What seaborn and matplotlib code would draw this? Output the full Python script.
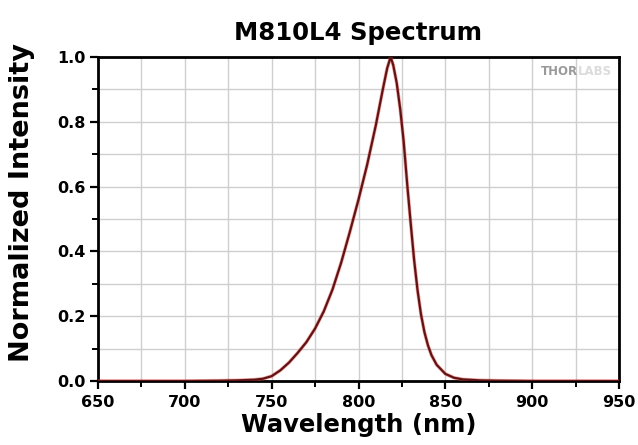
import numpy as np
import pandas as pd
import matplotlib
matplotlib.use("Agg")
import matplotlib.pyplot as plt
import seaborn as sns
from matplotlib.ticker import MultipleLocator

# Data
wavelength = [650, 700, 720, 730, 740, 745, 750, 755, 760, 765, 770, 775,
              780, 785, 790, 795, 800, 805, 810, 814, 816.5, 818.5,
              820, 822, 824, 826, 828, 830, 832, 834, 836, 838, 840, 842,
              845, 850, 855, 860, 870, 880, 900, 950]
intensity = [0.0, 0.0, 0.001, 0.002, 0.004, 0.007, 0.015, 0.033, 0.057, 0.087,
             0.12, 0.162, 0.215, 0.282, 0.365, 0.46, 0.56, 0.668, 0.79, 0.9,
             0.965, 1.0, 0.975, 0.92, 0.84, 0.74, 0.61, 0.49, 0.375, 0.28,
             0.205, 0.15, 0.11, 0.08, 0.05, 0.022, 0.01, 0.005, 0.002, 0.001,
             0.0, 0.0]
x_ticks = [650, 700, 750, 800, 850, 900, 950]
y_ticks = [0.0, 0.2, 0.4, 0.6, 0.8, 1.0]

df = pd.DataFrame({"Wavelength": wavelength, "Intensity": intensity})

sns.set_style("ticks")
plt.rcParams['font.family'] = ['DejaVu Sans']
plt.rcParams['text.color'] = 'black'
plt.rcParams['axes.labelcolor'] = 'black'
plt.rcParams['xtick.color'] = 'black'
plt.rcParams['ytick.color'] = 'black'

fig = plt.figure(figsize=(6.38, 4.45), dpi=100)
ax = fig.add_axes([98/638, 1-381/445, (619-98)/638, (381-57)/445])

sns.lineplot(data=df, x="Wavelength", y="Intensity", ax=ax, color="#f03a3a",
             linewidth=2.6, alpha=0.45, zorder=3)
sns.lineplot(data=df, x="Wavelength", y="Intensity", ax=ax, color="#5e1414",
             linewidth=1.6, zorder=4)

ax.set_xlim(650, 950)
ax.set_ylim(0, 1.0)
ax.set_xticks(x_ticks)
ax.set_yticks(y_ticks)
ax.xaxis.set_minor_locator(MultipleLocator(25))
ax.yaxis.set_minor_locator(MultipleLocator(0.1))
ax.set_xticklabels([str(v) for v in x_ticks], fontsize=11.5, fontweight="bold", color="black")
ax.set_yticklabels([f"{v:.1f}" for v in y_ticks], fontsize=11.5, fontweight="bold", color="black")

ax.grid(True, which="both", color="#cfcfcf", linewidth=1.0, zorder=0)
ax.set_axisbelow(True)

for s in ax.spines.values():
    s.set_visible(True)
    s.set_linewidth(2.0)
    s.set_color("black")

ax.tick_params(which="major", direction="out", length=6, width=1.6,
               top=False, right=False, pad=3, colors="black")
ax.tick_params(which="minor", direction="out", length=4, width=1.4,
               top=False, right=False, colors="black")
ax.tick_params(axis="x", which="major", pad=4)

ax.set_xlabel("Wavelength (nm)", fontsize=17.5, fontweight="bold", labelpad=2, color="black")
ax.set_ylabel("Normalized Intensity", fontsize=19.5, fontweight="bold", color="black")
ax.yaxis.set_label_coords(-0.121, 0.55)
ax.set_title("M810L4 Spectrum", fontsize=17.6, fontweight="bold", pad=12, color="black")

ax.text(0.921, 0.954, "THOR", transform=ax.transAxes, fontsize=8.5,
        fontweight="bold", color="#9a9a9a", ha="right", va="center", zorder=5)
ax.text(0.921, 0.954, "LABS", transform=ax.transAxes, fontsize=8.5,
        fontweight="bold", color="#dcdcdc", ha="left", va="center", zorder=5)

fig.savefig("out.png", dpi=100)
